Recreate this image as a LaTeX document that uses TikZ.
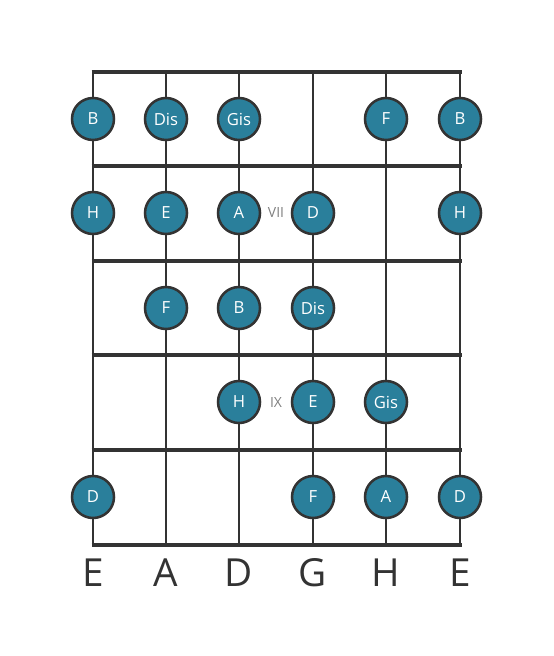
\documentclass[tikz,border=0pt]{standalone}
\usepackage{fontspec}
\setmainfont{Open Sans}
\definecolor{dotfill}{HTML}{2A7F9B}
\definecolor{ink}{HTML}{333333}
\tikzset{
  dot/.style={circle,draw=ink,line width=1.9pt,fill=dotfill,minimum size=31.5pt,
    inner sep=0pt,text=white,font=\fontsize{12.5}{13}\selectfont},
  fretno/.style={text=gray,font=\fontsize{10.5}{11}\selectfont},
  tuning/.style={text=ink,font=\fontsize{29}{31}\selectfont}
}

\begin{document}
\begin{tikzpicture}[x=0.75pt,y=-0.75pt]
  \useasboundingbox (0,0) rectangle (553,656);
  % strings
  \foreach \s/\x in {1/93,2/166,3/239,4/313,5/386,6/460}
    \draw[ink,line width=2.2pt] (\x,72) -- (\x,545);
  % frets
  \foreach \y in {72,166,261,355,450,545}
    \draw[ink,line width=3.6pt] (91.5,\y) -- (461.5,\y);
  % notes
  \foreach \n/\x/\y/\t in {a1/93/119/B,a2/166/119/Dis,a3/239/119/Gis,a5/386/119/F,a6/460/119/B,
    b1/93/213/H,b2/166/213/E,b3/239/213/A,b4/313/213/D,b6/460/213/H,
    c2/166/308/F,c3/239/308/B,c4/313/308/Dis,
    d3/239/402/H,d4/313/402/E,d5/386/402/Gis,
    e1/93/497/D,e4/313/497/F,e5/386/497/A,e6/460/497/D}
    \node[dot] (\n) at (\x,\y) {\t};
  % fret numbers
  \node[fretno] (vii) at (276,213) {VII};
  \node[fretno] (ix) at (276,402) {IX};
  % tuning
  \foreach \n/\x/\t in {t1/93/E,t2/166/A,t3/239/D,t4/313/G,t5/386/H,t6/460/E}
    \node[tuning] (\n) at (\x,573) {\t};
\end{tikzpicture}
\end{document}
